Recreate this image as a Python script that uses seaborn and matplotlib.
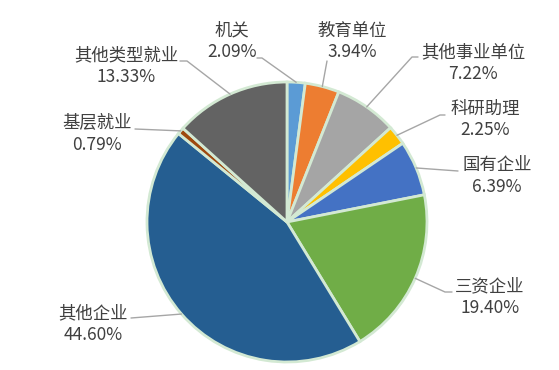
import numpy as np
import matplotlib
matplotlib.use("Agg")
import matplotlib.pyplot as plt
import seaborn as sns

categories = ["机关", "教育单位", "其他事业单位", "科研助理", "国有企业",
              "三资企业", "其他企业", "基层就业", "其他类型就业"]
values = [2.09, 3.94, 7.22, 2.25, 6.39, 19.40, 44.60, 0.79, 13.33]
pct_labels = ["2.09%", "3.94%", "7.22%", "2.25%", "6.39%",
              "19.40%", "44.60%", "0.79%", "13.33%"]
colors = ["#5b9bd5", "#ed7d31", "#a5a5a5", "#ffc000", "#4472c4",
          "#70ad47", "#255e91", "#9e480e", "#636363"]

sns.set_theme(style="white")
plt.rcParams['font.family'] = ['Noto Sans CJK SC', 'DejaVu Sans']

W, H = 559, 370
fig = plt.figure(figsize=(W / 100, H / 100), dpi=100)
ax = fig.add_axes([0, 0, 1, 1])

def Y(y):
    return H - y

cx, cy, r = 287, Y(222), 140
wedges, _ = ax.pie(values, colors=colors, startangle=90, counterclock=False,
                   center=(cx, cy), radius=r, frame=True,
                   wedgeprops=dict(edgecolor="#d3e9d3", linewidth=2.0))
ax.set_xlim(0, W)
ax.set_ylim(0, H)
ax.set_aspect('equal')
ax.axis('off')

# label layout: (text center x, text center y, leader points from text side)
layout = [
    (232, 41.5, [(257, 58), (262, 58)]),
    (352, 41.5, [(327, 61)]),
    (473, 63, [(418, 57), (412, 57)]),
    (485, 119.5, [(445, 115), (440, 115)]),
    (497, 176, [(458, 171)]),
    (490, 297, [(452, 292), (445, 292)]),
    (93, 324, [(131, 318)]),
    (97, 134, [(135, 129)]),
    (126, 66.5, [(180, 61), (187, 61)]),
]

for w, cat, pct, (tx, ty, pts) in zip(wedges, categories, pct_labels, layout):
    ang = np.deg2rad((w.theta1 + w.theta2) / 2)
    ex = cx + r * np.cos(ang)
    ey = cy + r * np.sin(ang)
    xs = [p[0] for p in pts] + [ex]
    ys = [Y(p[1]) for p in pts] + [ey]
    ax.plot(xs, ys, color="#a6a6a6", lw=1.0, zorder=1)
    ax.text(tx, Y(ty), f"{cat}\n{pct}", ha="center", va="center",
            fontsize=12.5, color="#404040", linespacing=1.25)

fig.savefig("out.png", dpi=100)
